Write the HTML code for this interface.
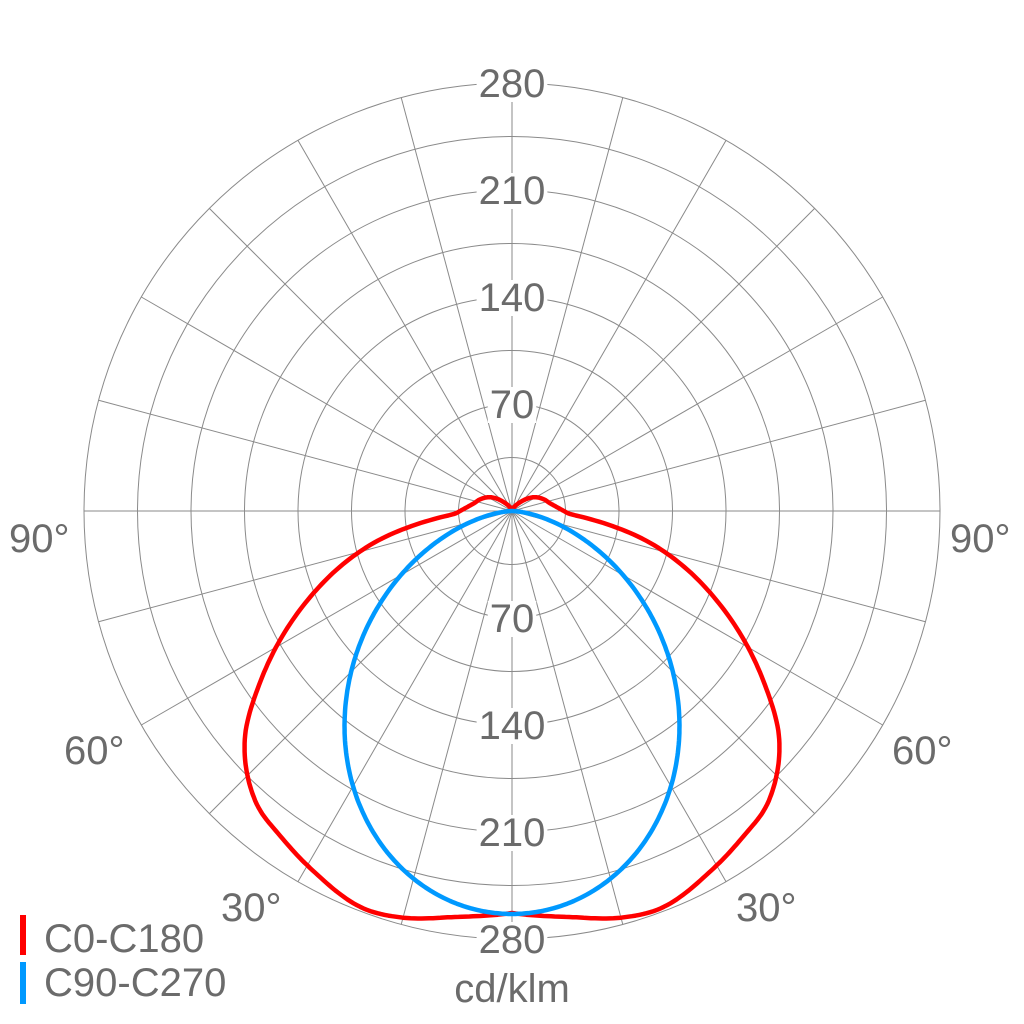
<!DOCTYPE html>
<html><head><meta charset="utf-8"><style>
html,body{margin:0;padding:0;background:#fff;}
svg{display:block;}
text{font-family:"Liberation Sans",Arial,sans-serif;fill:#6b6b6b;font-size:40px;}
</style></head><body>
<svg id="s" width="1024" height="1024" viewBox="0 0 1024 1024" xmlns="http://www.w3.org/2000/svg">
<g id="grid" stroke="#8a8a8a" stroke-width="1" fill="none"></g>
<g id="labels"></g>
<path id="red" fill="none" stroke="#ff0000" stroke-width="4.5" stroke-linejoin="round"/>
<path id="blue" fill="none" stroke="#0099ff" stroke-width="4.5" stroke-linejoin="round"/>
<text x="9" y="552">90°</text>
<text x="950" y="552">90°</text>
<text x="64" y="764">60°</text>
<text x="892" y="764">60°</text>
<text x="221" y="921">30°</text>
<text x="736" y="921">30°</text>
<rect x="20" y="915" width="6" height="40" fill="#ff0000"/>
<rect x="20" y="962" width="6" height="42" fill="#0099ff"/>
<text x="44" y="952">C0-C180</text>
<text x="44" y="996">C90-C270</text>
<text x="512" y="1002" text-anchor="middle">cd/klm</text>
</svg>
<script>
var cx=512,cy=511,R=428,NS="http://www.w3.org/2000/svg";
var g=document.getElementById('grid'),L=document.getElementById('labels');
function el(p,n,a){var e=document.createElementNS(NS,n);for(var k in a)e.setAttribute(k,a[k]);p.appendChild(e);return e;}
for(var i=1;i<=8;i++)el(g,'circle',{cx:cx,cy:cy,r:R*i/8});
for(var a=0;a<360;a+=15){var t=a*Math.PI/180;el(g,'line',{x1:cx,y1:cy,x2:cx+R*Math.cos(t),y2:cy+R*Math.sin(t)});}
var vals=[70,140,210,280];
vals.forEach(function(v,i){var r=R*(i+1)/4;
 [cy-r+14,cy+r+14].forEach(function(y){
  var tx=el(L,'text',{x:cx,y:y,'text-anchor':'middle'});tx.textContent=v;
  var bb=tx.getBBox();var rc=el(L,'rect',{x:bb.x-2,y:bb.y+4,width:bb.width+4,height:bb.height-8,fill:'#fff'});L.insertBefore(rc,tx);
 });});
var rd=[[0,402],[8,410],[15,421],[21,424],[29,411],[35,400],[41.6,387],[49.4,352],[56,303],[65,234],[76.5,146],[86,64],[90,52],[100,40],[110,34],[122,26],[140,10],[160,2],[180,0]];
function interp(d,th){for(var i=0;i<d.length-1;i++){if(th>=d[i][0]&&th<=d[i+1][0]){
 var p0=d[Math.max(i-1,0)],p1=d[i],p2=d[i+1],p3=d[Math.min(i+2,d.length-1)];
 var u=(th-p1[0])/(p2[0]-p1[0]);var m1=(p2[1]-p0[1])/(p2[0]-p0[0]||1)*(p2[0]-p1[0]);var m2=(p3[1]-p1[1])/(p3[0]-p1[0]||1)*(p2[0]-p1[0]);
 var u2=u*u,u3=u2*u;return (2*u3-3*u2+1)*p1[1]+(u3-2*u2+u)*m1+(-2*u3+3*u2)*p2[1]+(u3-u2)*m2;}}return 0;}
function path(f,max){var s='';for(var th=-max;th<=max;th+=0.5){var r=Math.max(0,f(Math.abs(th)));var t=th*Math.PI/180;
 var x=cx+r*Math.sin(t),y=cy+r*Math.cos(t);s+=(s?'L':'M')+x.toFixed(1)+' '+y.toFixed(1);}return s;}
document.getElementById('red').setAttribute('d',path(function(t){return interp(rd,t);},180));
document.getElementById('blue').setAttribute('d',path(function(t){var c=Math.cos(t*Math.PI/180);return c<=0?0:403*Math.pow(c,1.65);},90));
</script>
</body></html>
